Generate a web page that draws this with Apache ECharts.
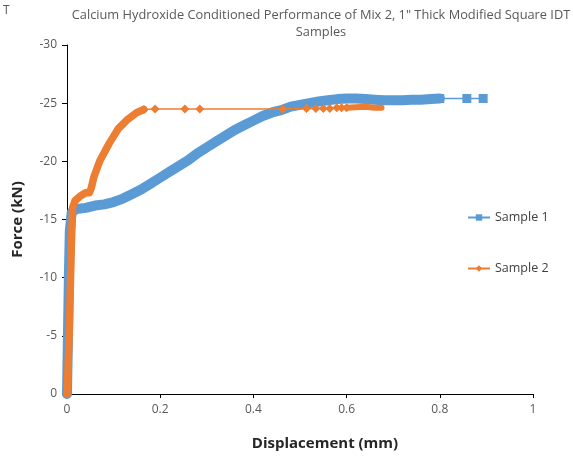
<!DOCTYPE html>
<html>
<head>
<meta charset="utf-8">
<script src="https://cdn.jsdelivr.net/npm/echarts@6/dist/echarts.min.js"></script>
<style>html,body{margin:0;padding:0;background:#fff}#c{width:573px;height:460px}</style>
</head>
<body>
<div id="c"></div>
<script>
// Sample 1: dense band (many overlapping measurements) and sparse tail
const sample1Dense = [
  [0,0],[0.002,-5],[0.004,-10],[0.006,-14],[0.01,-15.6],[0.02,-15.9],[0.04,-16.0],
  [0.06,-16.2],[0.08,-16.3],[0.10,-16.5],[0.12,-16.8],[0.14,-17.2],[0.16,-17.6],
  [0.18,-18.1],[0.20,-18.6],[0.22,-19.1],[0.24,-19.6],[0.26,-20.1],[0.28,-20.7],
  [0.30,-21.2],[0.32,-21.7],[0.34,-22.2],[0.36,-22.7],[0.38,-23.1],[0.40,-23.5],
  [0.42,-23.9],[0.44,-24.2],[0.46,-24.4],[0.48,-24.7],[0.50,-24.85],[0.52,-25.0],
  [0.54,-25.15],[0.56,-25.25],[0.58,-25.35],[0.60,-25.4],[0.62,-25.4],[0.64,-25.35],
  [0.66,-25.3],[0.68,-25.25],[0.70,-25.25],[0.72,-25.25],[0.74,-25.3],[0.76,-25.3],
  [0.78,-25.35],[0.80,-25.4]
];
const sample1Sparse = [[0.80,-25.4],[0.858,-25.4],[0.893,-25.4]];

// Sample 2: dense rise, sparse plateau, dense end cluster
const sample2Dense = [
  [0,0],[0.002,-2],[0.005,-5.5],[0.009,-12.4],[0.012,-16.0],[0.017,-16.6],[0.028,-17.0],
  [0.04,-17.3],[0.048,-17.3],[0.052,-17.7],[0.058,-18.7],[0.07,-20.0],[0.09,-21.5],
  [0.11,-22.8],[0.13,-23.6],[0.15,-24.2],[0.165,-24.45]
];
const sample2Sparse = [
  [0.165,-24.45],[0.189,-24.5],[0.253,-24.5],[0.285,-24.5],[0.463,-24.5],[0.514,-24.55],
  [0.534,-24.55],[0.55,-24.55],[0.564,-24.55],[0.579,-24.6],[0.589,-24.6],[0.60,-24.6]
];
const sample2End = [[0.60,-24.6],[0.62,-24.65],[0.64,-24.7],[0.66,-24.6],[0.675,-24.6]];

const titleText = 'Calcium Hydroxide Conditioned Performance of Mix 2, 1" Thick Modified Square IDT\nSamples';
const xName = 'Displacement (mm)';
const yName = 'Force (kN)';

const blue = '#5b9bd5', orange = '#ed7d31';
const font = 'Open Sans';
const chart = echarts.init(document.getElementById('c'));
chart.setOption({
  animation: false,
  textStyle: {fontFamily: font},
  title: {
    text: titleText, left: 316, top: 2, textAlign: 'center',
    textStyle: {fontSize: 12.8, fontWeight: 'normal', color: '#595959', lineHeight: 17, fontFamily: font}
  },
  graphic: [{type: 'text', left: 3, top: 5, style: {text: 'T', fontSize: 12, fill: '#595959', fontFamily: font}}],
  legend: {
    orient: 'vertical', left: 462, top: 206, itemGap: 38, itemWidth: 22, itemHeight: 8,
    data: ['Sample 1', 'Sample 2'],
    textStyle: {fontSize: 12.5, color: '#404040', fontFamily: font}
  },
  grid: {left: 67, right: 40, top: 45, bottom: 66, containLabel: false},
  xAxis: {
    type: 'value', min: 0, max: 1, interval: 0.2,
    name: xName, nameLocation: 'middle', nameGap: 42,
    nameTextStyle: {fontSize: 15, fontWeight: 'bold', color: '#262626', fontFamily: font, padding: [0, 0, 0, 50]},
    axisLine: {lineStyle: {color: '#000', width: 1}},
    axisTick: {show: true, length: 4, lineStyle: {color: '#000'}},
    axisLabel: {fontSize: 12, color: '#595959', margin: 10, formatter: v => String(Math.round(v*10)/10)},
    splitLine: {show: false}
  },
  yAxis: {
    type: 'value', min: -30, max: 0, interval: 5, inverse: true,
    name: yName, nameLocation: 'middle', nameGap: 42, nameRotate: 90,
    nameTextStyle: {fontSize: 15, fontWeight: 'bold', color: '#262626', fontFamily: font},
    axisLine: {show: true, lineStyle: {color: '#000', width: 1}},
    axisTick: {show: true, length: 5, lineStyle: {color: '#000'}},
    axisLabel: {fontSize: 12, color: '#595959', margin: 10},
    splitLine: {show: false}
  },
  series: [
    {name: 'Sample 1', type: 'line', data: sample1Sparse, symbol: 'rect', symbolSize: 9,
     itemStyle: {color: blue}, lineStyle: {color: blue, width: 1.5}},
    {name: 'Sample 1', type: 'line', data: sample1Dense, showSymbol: false, symbol: 'none',
     itemStyle: {color: blue}, lineStyle: {color: blue, width: 10, cap: 'round', join: 'round'}},
    {name: 'Sample 2', type: 'line', data: sample2Sparse, symbol: 'diamond', symbolSize: 9,
     itemStyle: {color: orange}, lineStyle: {color: orange, width: 1.5}},
    {name: 'Sample 2', type: 'line', data: sample2Dense, showSymbol: false, symbol: 'none',
     itemStyle: {color: orange}, lineStyle: {color: orange, width: 7.5, cap: 'round', join: 'round'}},
    {name: 'Sample 2', type: 'line', data: sample2End, showSymbol: false, symbol: 'none',
     itemStyle: {color: orange}, lineStyle: {color: orange, width: 6, cap: 'round', join: 'round'}}
  ]
});
</script>
</body>
</html>
